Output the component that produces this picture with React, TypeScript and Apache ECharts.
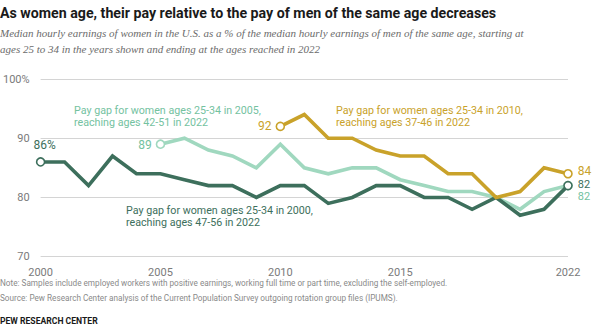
import React, { useEffect, useRef } from "react";
import * as echarts from "echarts";

const years = ["2000","2001","2002","2003","2004","2005","2006","2007","2008","2009","2010","2011","2012","2013","2014","2015","2016","2017","2018","2019","2020","2021","2022"];
const shownYearLabels = ["2000", "2005", "2010", "2015", "2022"];
const cohort2000 = [86, 86, 82, 87, 84, 84, 83, 82, 82, 80, 82, 82, 79, 80, 82, 82, 80, 80, 78, 80, 77, 78, 82];
const cohort2005 = [null, null, null, null, null, 89, 90, 88, 87, 85, 89, 85, 84, 85, 85, 83, 82, 81, 81, 80, 78, 81, 82];
const cohort2010 = [null, null, null, null, null, null, null, null, null, null, 92, 94, 90, 90, 88, 87, 87, 84, 84, 80, 81, 85, 84];

const DARK = "#3d6f5c";
const LIGHT = "#a0d8bf";
const LIGHT_TEXT = "#74c29f";
const GOLD = "#c9a22a";
const FONT = "Roboto";

function buildData(arr: (number | null)[], color: string, startLabel: any, endLabel: any) {
  const first = arr.findIndex((v) => v !== null);
  let last = arr.length - 1;
  while (arr[last] === null) last--;
  return arr.map((v, i) => {
    if (v === null) return "-";
    if (i === first || i === last) {
      const lab = i === first ? startLabel : endLabel;
      return {
        value: v,
        symbol: "circle",
        symbolSize: 8,
        itemStyle: { color: "#ffffff", borderColor: color, borderWidth: 1.6 },
        label: lab,
      };
    }
    return { value: v, symbolSize: 0, symbol: "none" };
  });
}

export default function App() {
  const ref = useRef<HTMLDivElement>(null);
  useEffect(() => {
    if (!ref.current) return;
    const chart = echarts.init(ref.current, null, { renderer: "svg" });
    const lbl = (text: string, color: string, position: any, offset: number[] = [0, 0], size = 12, lh?: number) => ({
      show: true,
      formatter: text,
      color,
      position,
      offset,
      fontFamily: FONT,
      fontSize: size,
      lineHeight: lh,
      distance: 4,
    });
    const mkSeries = (name: string, arr: (number | null)[], color: string, startL: any, endL: any, z: number) => ({
      name,
      type: "line",
      data: buildData(arr, color, startL, endL),
      showSymbol: true,
      connectNulls: false,
      z,
      lineStyle: { color, width: 3.6, join: "miter" },
      itemStyle: { color },
      emphasis: { disabled: true },
    });
    chart.setOption({
      animation: false,
      grid: { left: 38, right: 32, top: 79, bottom: 73.3 },
      xAxis: {
        type: "category",
        data: years,
        boundaryGap: false,
        axisLine: { show: false },
        axisTick: { show: false },
        axisLabel: {
          interval: (idx: number, val: string) => shownYearLabels.includes(val),
          color: "#7a7a7a",
          fontFamily: FONT,
          fontSize: 11,
          margin: 10,
        },
      },
      yAxis: {
        type: "value",
        min: 70,
        max: 100,
        interval: 10,
        axisLine: { show: false },
        axisTick: { show: false },
        axisLabel: {
          color: "#7a7a7a",
          fontFamily: FONT,
          fontSize: 11,
          margin: 11,
          formatter: (v: number) => (v === 100 ? "100%" : String(v)),
        },
        splitLine: { lineStyle: { color: "#d4d4d4", width: 1 } },
      },
      series: [
        mkSeries("2005", cohort2005, LIGHT,
          lbl("89", LIGHT_TEXT, "left", [0, 1]),
          lbl("82", LIGHT_TEXT, "right", [1, 11], 11, 10), 2),
        mkSeries("2000", cohort2000, DARK,
          lbl("86%", DARK, "top", [4, -2]),
          lbl("82", DARK, "right", [1, -1.5], 11, 10), 3),
        mkSeries("2010", cohort2010, GOLD,
          lbl("92", GOLD, "left", [0, 0]),
          lbl("84", GOLD, "right", [1, -3]), 4),
      ],
      graphic: [
        { type: "text", left: 0, top: 6, style: { text: "As women age, their pay relative to the pay of men of the same age decreases", font: `bold 14.2px ${FONT}`, fill: "#1a1a1a" } },
        { type: "text", left: 0, top: 27, style: { text: "Median hourly earnings of women in the U.S. as a % of the median hourly earnings of men of the same age, starting at", font: `italic 11px 'Liberation Serif'`, fill: "#6b6b6b" } },
        { type: "text", left: 0, top: 43, style: { text: "ages 25 to 34 in the years shown and ending at the ages reached in 2022", font: `italic 11px 'Liberation Serif'`, fill: "#6b6b6b" } },
        { type: "text", left: 74, top: 104, style: { text: "Pay gap for women ages 25-34 in 2005,\nreaching ages 42-51 in 2022", font: `10.7px ${FONT}`, fill: LIGHT_TEXT, lineHeight: 12 } },
        { type: "text", left: 336, top: 104, style: { text: "Pay gap for women ages 25-34 in 2010,\nreaching ages 37-46 in 2022", font: `10.7px ${FONT}`, fill: GOLD, lineHeight: 12 } },
        { type: "text", left: 126, top: 204, style: { text: "Pay gap for women ages 25-34 in 2000,\nreaching ages 47-56 in 2022", font: `10.7px ${FONT}`, fill: DARK, lineHeight: 12 } },
        { type: "text", left: 0, top: 279, style: { text: "Note: Samples include employed workers with positive earnings, working full time or part time, excluding the self-employed.", font: `8.2px ${FONT}`, fill: "#8a8a8a" } },
        { type: "text", left: 0, top: 294, style: { text: "Source: Pew Research Center analysis of the Current Population Survey outgoing rotation group files (IPUMS).", font: `8.2px ${FONT}`, fill: "#8a8a8a" } },
        { type: "text", left: 0, top: 316, style: { text: "PEW RESEARCH CENTER", font: `bold 8.6px ${FONT}`, fill: "#1a1a1a" } },
      ],
    });
    return () => chart.dispose();
  }, []);
  return (
    <div
      ref={ref}
      style={{ position: "fixed", left: 0, top: 0, width: 600, height: 330, background: "#ffffff" }}
    />
  );
}
